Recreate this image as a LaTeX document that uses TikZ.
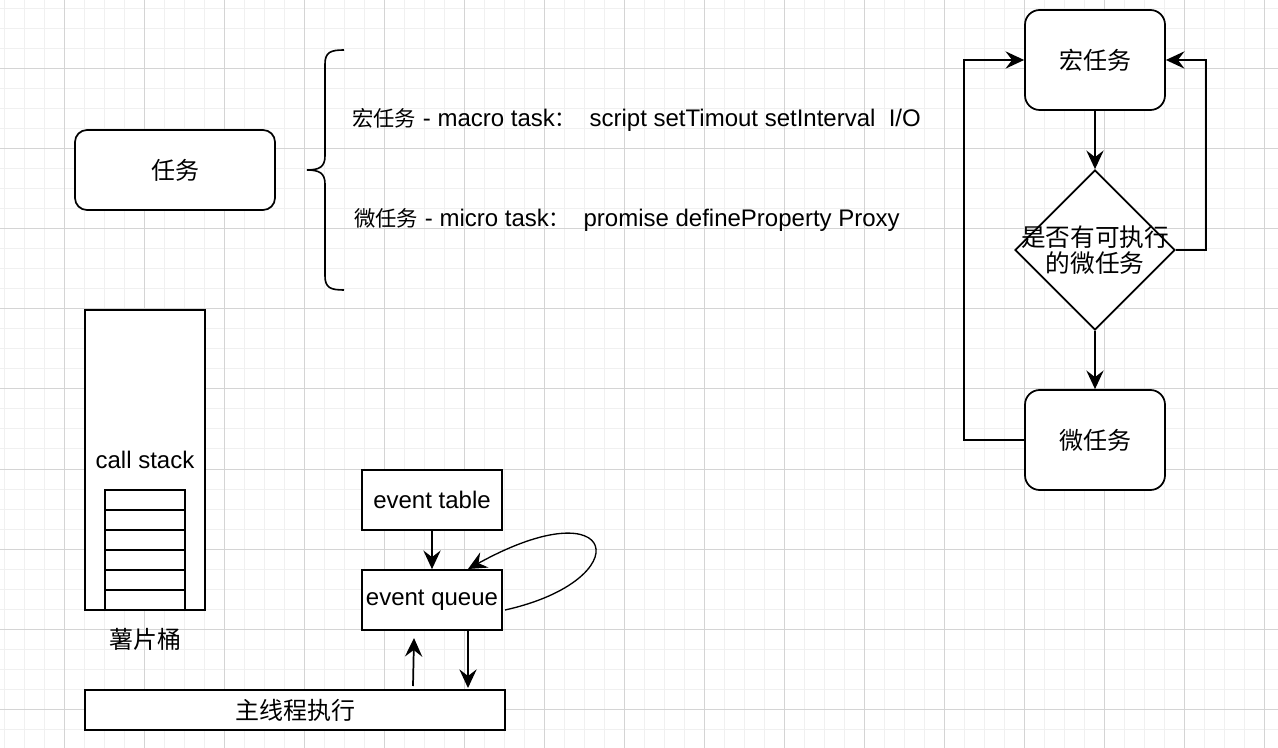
\documentclass[tikz,border=0pt]{standalone}
\usepackage{fontspec}
\setmainfont{Liberation Sans}
\newfontfamily\cjk{Noto Sans CJK SC}
\usetikzlibrary{arrows.meta,shapes.geometric}
\begin{document}
\begin{tikzpicture}[x=0.75pt,y=-0.75pt,
  every node/.style={font=\fontsize{18pt}{20pt}\selectfont, text=black},
  minorgrid/.style={draw={rgb,255:red,240;green,240;blue,240}, line width=0.75pt},
  majorgrid/.style={draw={rgb,255:red,212;green,212;blue,212}, line width=0.75pt},
  shape line/.style={draw=black, line width=1.3pt, fill=white},
  roundbox/.style={shape line, rectangle, rounded corners=#1, inner sep=0pt},
  sqbox/.style={shape line, rectangle, inner sep=0pt},
  cell/.style={draw=black, line width=1.2pt, fill=white, rectangle, minimum width=60pt, minimum height=15pt, inner sep=0pt},
  dia/.style={shape line, diamond, minimum width=120pt, minimum height=120pt, inner sep=0pt},
  plain/.style={inner sep=0pt},
  arr/.style={draw=black, line width=1.3pt, -{Stealth[length=14pt,width=13pt,inset=5pt]}},
  thinarr/.style={arr, line width=1pt},
  brace line/.style={draw=black, line width=1.2pt}
]
\fill[white] (0,0) rectangle (1278,748);
\useasboundingbox (0,0) rectangle (1278,748);
% grid
\foreach \x in {4,24,...,1277} \draw[minorgrid] (\x,0) -- (\x,748);
\foreach \y in {9,29,...,747} \draw[minorgrid] (0,\y) -- (1278,\y);
\foreach \x in {64,144,...,1277} \draw[majorgrid] (\x,0) -- (\x,748);
\foreach \y in {69,149,...,747} \draw[majorgrid] (0,\y) -- (1278,\y);

% left: task and brace
\node[roundbox=9pt, minimum width=150pt, minimum height=60pt] (task) at (175,170) {\cjk 任务};
\draw[brace line] (344,50) .. controls (331,50) and (325,52) .. (325,64) -- (325,156)
  .. controls (325,167) and (319,170) .. (307,170)
  .. controls (319,170) and (325,173) .. (325,184) -- (325,276)
  .. controls (325,288) and (331,290) .. (344,290);
\node[plain, anchor=west] (macroline) at (352,120)
  {{\cjk\fontsize{16pt}{18pt}\selectfont 宏任务} - macro task{\cjk\fontsize{16pt}{18pt}\selectfont ：}\ \ script setTimout setInterval\ \ I/O};
\node[plain, anchor=west] (microline) at (354,220)
  {{\cjk\fontsize{16pt}{18pt}\selectfont 微任务} - micro task{\cjk\fontsize{16pt}{18pt}\selectfont ：}\ \ promise defineProperty Proxy};

% right: loop
\node[roundbox=11pt, minimum width=105pt, minimum height=75pt] (mac) at (1095,60) {\cjk 宏任务};
\node[dia, label={[align=center, font=\cjk\fontsize{18.5pt}{20pt}\selectfont]center:是否有可执行\\的微任务}] (dec) at (1095,250) {};
\node[roundbox=11pt, minimum width=105pt, minimum height=75pt] (mic) at (1095,440) {\cjk 微任务};
\draw[arr] (mac.south) -- (dec.north);
\draw[arr] (dec.south) -- (mic.north);
\draw[arr] (mic.west) -- ++(-60,0) |- (mac.west);
\draw[arr] (dec.east) -- ++(30,0) |- (mac.east);

% call stack
\node[sqbox, minimum width=90pt, minimum height=225pt] (stack) at (145,460) {call stack};
\foreach \i in {0,...,5} \node[cell] (cell\i) at (145,{500+20*\i}) {};
\node[plain] (chips) at (145,639) {\cjk 薯片桶};

% event table / queue / main thread
\node[sqbox, minimum width=105pt, minimum height=45pt] (table) at (432,500) {event table};
\node[sqbox, minimum width=105pt, minimum height=45pt] (queue) at (432,600) {event queue};
\node[sqbox, minimum width=315pt, minimum height=30pt] (main) at (295,710) {\cjk 主线程执行};
\coordinate (upstart) at (413,686);
\coordinate (upend) at (414,638);
\coordinate (downend) at (468,688);
\coordinate (loopstart) at (505,610);
\coordinate (loopend) at (468,569);
\draw[arr] (table.south) -- (queue.north);
\draw[thinarr] (queue.south -| downend) -- (downend);
\draw[arr] (upstart) -- (upend);
\draw[thinarr] (loopstart) .. controls (640,580) and (620,485) .. (loopend);
\end{tikzpicture}
\end{document}
